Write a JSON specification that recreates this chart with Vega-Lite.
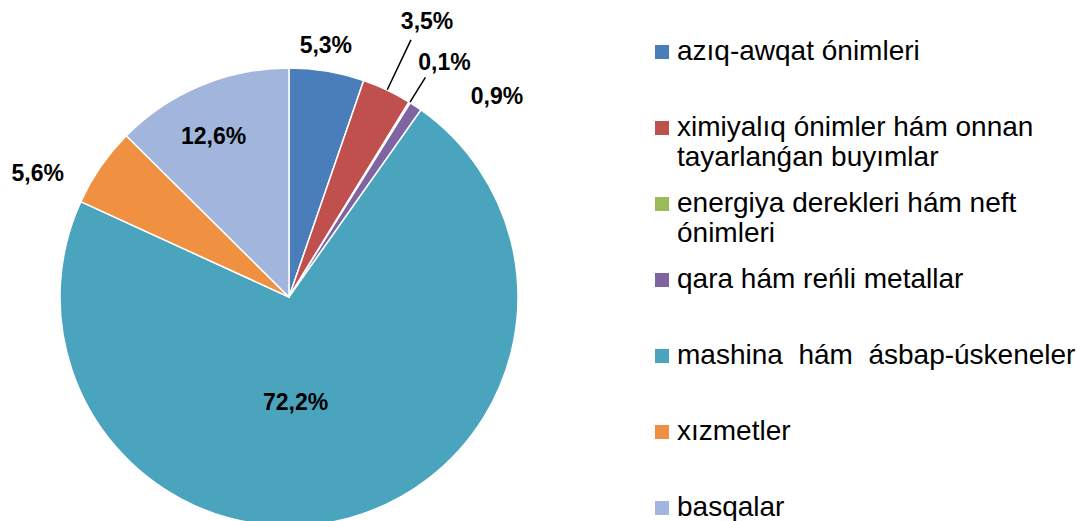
{
  "$schema": "https://vega.github.io/schema/vega-lite/v6.json",
  "width": 578,
  "height": 594,
  "padding": 0,
  "background": "white",
  "config": {"view": {"stroke": null}, "font": "Liberation Sans"},
  "data": {"values": [
    {"category": "azıq-awqat ónimleri", "value": 5.3, "label": "5,3%", "order": 1},
    {"category": "ximiyalıq ónimler hám onnan tayarlanǵan buyımlar", "value": 3.5, "label": "3,5%", "order": 2},
    {"category": "energiya derekleri hám neft ónimleri", "value": 0.1, "label": "0,1%", "order": 3},
    {"category": "qara hám reńli metallar", "value": 0.9, "label": "0,9%", "order": 4},
    {"category": "mashina\u00a0 hám\u00a0 ásbap-úskeneler", "value": 72.2, "label": "72,2%", "order": 5},
    {"category": "xızmetler", "value": 5.6, "label": "5,6%", "order": 6},
    {"category": "basqalar", "value": 12.6, "label": "12,6%", "order": 7}
  ]},
  "transform": [
    {"window": [{"op": "sum", "field": "value", "as": "cum"}], "sort": [{"field": "order"}], "frame": [null, 0]},
    {"calculate": "datum.cum - datum.value", "as": "start"},
    {"calculate": "datum.cum - datum.value / 2", "as": "mid"},
    {"calculate": "datum.mid + 0.02", "as": "mid2"}
  ],
  "layer": [
    {
      "mark": {"type": "arc", "outerRadius": 229, "stroke": "white", "strokeWidth": 1.5},
      "encoding": {
        "theta": {"field": "start", "type": "quantitative", "scale": {"domain": [0, 100.2]}},
        "theta2": {"field": "cum"},
        "color": {
          "field": "category", "type": "nominal",
          "scale": {
            "domain": ["azıq-awqat ónimleri", "ximiyalıq ónimler hám onnan tayarlanǵan buyımlar", "energiya derekleri hám neft ónimleri", "qara hám reńli metallar", "mashina\u00a0 hám\u00a0 ásbap-úskeneler", "xızmetler", "basqalar"],
            "range": ["#4A7EBB", "#C0504D", "#9BBB59", "#8064A2", "#4AA4BD", "#EF9140", "#A2B6DD"]
          },
          "legend": {
            "orient": "none", "legendX": 648, "legendY": 38, "title": null,
            "symbolType": "square", "symbolSize": 196, "symbolStrokeWidth": 0,
            "labelFontSize": 28, "labelFont": "Liberation Sans", "labelColor": "black",
            "labelLimit": 0, "labelOffset": 1, "rowPadding": 18, "gridAlign": "all",
            "labelExpr": "indexof(datum.label, 'onnan ') > 0 ? ['ximiyalıq ónimler hám onnan', 'tayarlanǵan buyımlar'] : indexof(datum.label, 'neft ') > 0 ? ['energiya derekleri hám neft', 'ónimleri'] : datum.label"
          }
        }
      }
    },
    {
      "transform": [{"filter": "datum.order == 2"}],
      "mark": {"type": "arc", "radius": 284, "radius2": 230, "stroke": "black", "strokeWidth": 1.2, "fill": null},
      "encoding": {"theta": {"field": "mid", "type": "quantitative"}, "theta2": {"field": "mid2"}}
    },
    {
      "transform": [{"filter": "datum.order == 3"}],
      "mark": {"type": "arc", "radius": 258, "radius2": 230, "stroke": "black", "strokeWidth": 1.2, "fill": null},
      "encoding": {"theta": {"field": "mid", "type": "quantitative"}, "theta2": {"field": "mid2"}}
    },
    {
      "transform": [{"filter": "datum.order == 1"}],
      "mark": {"type": "text", "radius": 253, "dx": -5, "dy": -1, "fontSize": 23, "fontWeight": "bold", "font": "Liberation Sans"},
      "encoding": {"theta": {"field": "mid", "type": "quantitative"}, "text": {"field": "label"}}
    },
    {
      "transform": [{"filter": "datum.order == 2"}],
      "mark": {"type": "text", "radius": 304, "dx": 8, "dy": 0, "fontSize": 23, "fontWeight": "bold", "font": "Liberation Sans"},
      "encoding": {"theta": {"field": "mid", "type": "quantitative"}, "text": {"field": "label"}}
    },
    {
      "transform": [{"filter": "datum.order == 3"}],
      "mark": {"type": "text", "radius": 280, "dx": 8, "dy": 4, "fontSize": 23, "fontWeight": "bold", "font": "Liberation Sans"},
      "encoding": {"theta": {"field": "mid", "type": "quantitative"}, "text": {"field": "label"}}
    },
    {
      "transform": [{"filter": "datum.order == 4"}],
      "mark": {"type": "text", "radius": 280, "dx": 53, "dy": 33, "fontSize": 23, "fontWeight": "bold", "font": "Liberation Sans"},
      "encoding": {"theta": {"field": "mid", "type": "quantitative"}, "text": {"field": "label"}}
    },
    {
      "transform": [{"filter": "datum.order == 5"}],
      "mark": {"type": "text", "radius": 110, "dx": -22, "dy": 0, "fontSize": 23, "fontWeight": "bold", "font": "Liberation Sans"},
      "encoding": {"theta": {"field": "mid", "type": "quantitative"}, "text": {"field": "label"}}
    },
    {
      "transform": [{"filter": "datum.order == 6"}],
      "mark": {"type": "text", "radius": 280, "dx": -21, "dy": 36, "fontSize": 23, "fontWeight": "bold", "font": "Liberation Sans"},
      "encoding": {"theta": {"field": "mid", "type": "quantitative"}, "text": {"field": "label"}}
    },
    {
      "transform": [{"filter": "datum.order == 7"}],
      "mark": {"type": "text", "radius": 170, "dx": -10, "dy": -3, "fontSize": 23, "fontWeight": "bold", "font": "Liberation Sans"},
      "encoding": {"theta": {"field": "mid", "type": "quantitative"}, "text": {"field": "label"}}
    }
  ]
}
